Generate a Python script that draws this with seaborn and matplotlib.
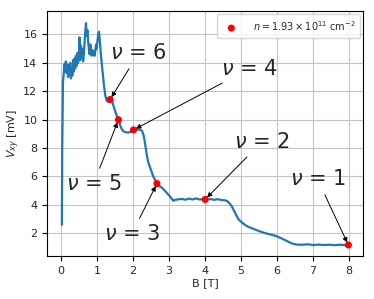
import matplotlib
matplotlib.use("Agg")
import matplotlib.pyplot as plt
import pandas as pd
import seaborn as sns

# Hall voltage trace
b_field = [0.02, 0.03, 0.05, 0.07, 0.09, 0.11, 0.13, 0.15, 0.17, 0.19,
           0.21, 0.23, 0.25, 0.27, 0.29, 0.31, 0.33, 0.35, 0.37, 0.39,
           0.41, 0.43, 0.45, 0.47, 0.49, 0.51, 0.53, 0.55, 0.57, 0.59,
           0.61, 0.63, 0.65, 0.67, 0.69, 0.71, 0.73, 0.75, 0.77, 0.79,
           0.81, 0.83, 0.85, 0.87, 0.89, 0.91, 0.93, 0.95, 0.97, 0.99,
           1.01, 1.03, 1.05, 1.07, 1.09, 1.11, 1.13, 1.16, 1.19, 1.22,
           1.25, 1.28, 1.31, 1.34, 1.37, 1.40, 1.44, 1.48, 1.52, 1.56,
           1.60, 1.64, 1.68, 1.72, 1.78, 1.85, 1.92, 2.00, 2.08, 2.15,
           2.20, 2.25, 2.29, 2.32, 2.35, 2.38, 2.42, 2.46, 2.51, 2.56,
           2.61, 2.66, 2.72, 2.80, 2.88, 2.95, 3.02, 3.08, 3.12, 3.16,
           3.25, 3.35, 3.45, 3.55, 3.65, 3.75, 3.85, 3.95, 4.05, 4.15,
           4.25, 4.35, 4.45, 4.55, 4.62, 4.68, 4.74, 4.80, 4.86, 4.92,
           5.00, 5.10, 5.20, 5.35, 5.50, 5.65, 5.80, 5.95, 6.05, 6.15,
           6.25, 6.35, 6.45, 6.55, 6.70, 6.85, 7.00, 7.15, 7.30, 7.45,
           7.60, 7.75, 7.90, 8.00]
v_xy = [2.6, 8.0, 12.6, 13.2, 13.9, 13.4, 14.1, 13.3, 13.9, 13.0,
        13.8, 13.2, 14.0, 12.9, 13.6, 13.1, 14.2, 13.4, 14.3, 13.6,
        14.5, 13.8, 14.7, 14.0, 14.4, 15.8, 14.2, 15.2, 14.3, 15.0,
        14.1, 14.6, 15.4, 16.2, 16.8, 15.9, 16.3, 15.5, 15.0, 14.6,
        15.3, 14.8, 14.5, 14.9, 14.6, 14.8, 14.5, 14.9, 15.3, 15.0,
        15.6, 16.0, 16.2, 15.7, 15.0, 14.4, 13.9, 13.2, 12.4, 11.8,
        11.45, 11.3, 11.25, 11.4, 11.45, 11.4, 11.1, 10.75, 10.45, 10.2,
        10.0, 9.6, 9.35, 9.2, 9.12, 9.1, 9.12, 9.22, 9.28, 9.3,
        9.28, 9.2, 8.9, 8.5, 8.0, 7.5, 7.0, 6.7, 6.35, 6.0,
        5.75, 5.52, 5.35, 5.2, 5.0, 4.8, 4.6, 4.4, 4.28, 4.35,
        4.38, 4.42, 4.36, 4.44, 4.38, 4.45, 4.37, 4.42, 4.36, 4.41,
        4.35, 4.40, 4.34, 4.32, 4.25, 4.1, 3.9, 3.6, 3.3, 3.0,
        2.8, 2.6, 2.45, 2.3, 2.15, 2.02, 1.92, 1.82, 1.72, 1.6,
        1.48, 1.35, 1.25, 1.2, 1.19, 1.22, 1.17, 1.2, 1.17, 1.19,
        1.16, 1.19, 1.16, 1.17]

# filling factor points
nu_labels = [6, 5, 4, 3, 2, 1]
nu_b = [1.36, 1.59, 2.01, 2.66, 4.0, 7.98]
nu_v = [11.42, 10.0, 9.28, 5.5, 4.38, 1.17]
text_b = [2.15, 0.9, 5.24, 1.96, 5.58, 7.12]
text_v = [14.68, 5.46, 13.6, 1.93, 8.45, 5.82]

trace = pd.DataFrame({"B": b_field, "V": v_xy})
points = pd.DataFrame({"B": nu_b, "V": nu_v})

sns.set_style("ticks")
plt.rcParams["font.family"] = ["DejaVu Sans"]

fig = plt.figure(figsize=(3.74, 2.99), dpi=100)
ax = fig.add_axes([0.126, 0.144, 0.845, 0.819])

sns.lineplot(data=trace, x="B", y="V", ax=ax, color="#1f77b4", linewidth=1.6,
             estimator=None, sort=False)
sns.scatterplot(data=points, x="B", y="V", ax=ax, color="red", s=26,
                edgecolor="none", zorder=3,
                label=r"$n = 1.93 \times 10^{11}$ cm$^{-2}$")

for lab, bx, vy, tx, ty in zip(nu_labels, nu_b, nu_v, text_b, text_v):
    ax.annotate(r"$\nu$ = %d" % lab, xy=(bx, vy), xytext=(tx, ty),
                ha="center", va="center", fontsize=15,
                arrowprops=dict(arrowstyle="-|>", color="black", lw=0.7,
                                mutation_scale=7))

ax.grid(True, color="#c4c4c4", linewidth=0.8)
ax.set_xlim(-0.39, 8.39)
ax.set_ylim(0.4, 17.65)
ax.set_xticks(range(0, 9))
ax.set_yticks([2, 4, 6, 8, 10, 12, 14, 16])
ax.tick_params(labelsize=8, length=3.5, width=0.8, color="black")
for sp in ax.spines.values():
    sp.set_color("black")
    sp.set_linewidth(0.8)
ax.set_xlabel("B [T]", fontsize=8, labelpad=2)
ax.set_ylabel(r"$V_{xy}$ [mV]", fontsize=8, labelpad=1)
ax.legend(loc="upper right", fontsize=7, handletextpad=1.2, borderpad=0.5,
          borderaxespad=0.3)

fig.savefig("out.png", dpi=100)
